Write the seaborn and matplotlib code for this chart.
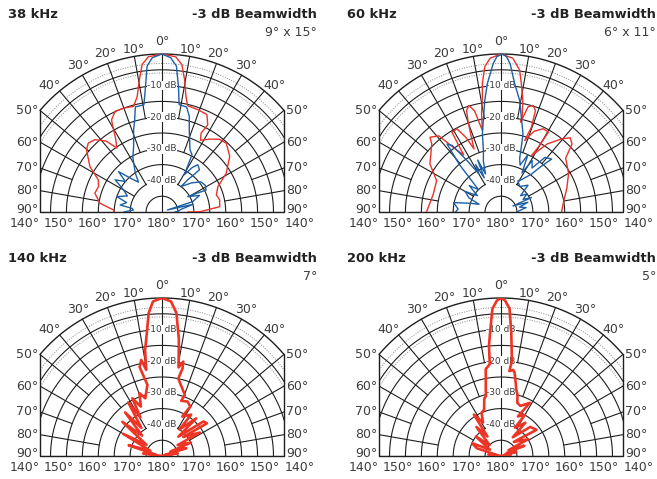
import numpy as np
import matplotlib
matplotlib.use("Agg")
import matplotlib.pyplot as plt
import seaborn as sns

sns.set_theme(style="white")
plt.rcParams["font.family"] = ["DejaVu Sans"]

# ---- beam pattern data: angle (deg, 0 = on axis) and level (dB) ----
ang_38_red = [-90, -87.6, -81.9, -74.2, -68, -63.1, -57.6, -50.3, -46.7, -42.6, -38, -35, -32, -29.5, -28.5,
              -24.8, -20, -14.9, -12, -9.6, -7.6, -5, 0, 5, 7.6, 9.6, 11.6, 13.4, 19.1, 24.6, 27.5, 26.2, 28,
              33, 38, 42.8, 50.4, 58.7, 65.4, 72.4, 78, 84.7, 89.5, 90]
db_38_red = [-35, -34.8, -30.3, -28.1, -28.5, -27.6, -23.2, -19.2, -18.2, -18.9, -21.5, -25.3, -22.5, -18.5, -16.8,
             -14.9, -15.0, -15.4, -12.6, -7.5, -2.9, -0.7, 0, -0.7, -2.9, -7.5, -12.6, -15.4, -15.7, -16.1, -18.9,
             -22.2, -24.3, -22.5, -20.8, -20.3, -22.4, -26.4, -30.7, -32.1, -31.5, -31.8, -38, -42]

ang_38_blue = [-90, -86, -83, -80.4, -75, -71, -65, -60, -55.3, -50, -46.9, -42, -38, -34.2, -28, -23.2, -18.9,
               -16.4, -14.1, -9.5, -7.4, -5.8, -3.6, 0, 3.2, 5.6, 7.4, 9.0, 13.1, 15.8, 18.2, 24, 27.5, 30.7, 34,
               36.9, 41.4, 38.5, 36.5, 45, 52, 58, 63.3, 58.8, 66, 71.2, 69.3, 76, 82, 89, 90]
db_38_blue = [-38, -41, -40.5, -36.7, -38.5, -35, -38, -36.1, -32.1, -35, -31.3, -36, -38, -35.1, -30.5, -27.4,
              -22.5, -19.6, -15.7, -15.6, -9.9, -3.6, -1.1, 0, -1.1, -3.6, -9.9, -15.6, -15.9, -18.5, -22.6, -28.4,
              -29.6, -36.3, -33, -31.3, -32.2, -37, -40, -37, -34.5, -34, -34.5, -40.6, -37.1, -39.8, -48.2, -40,
              -44, -45.1, -46]

ang_60_red = [-90, -75.2, -63.9, -55.7, -45.3, -43.3, -39, -36, -33, -31.4, -27.7, -25, -23, -20, -18.6, -16.6,
              -14.5, -12.8, -11, -9.1, -8.2, -6.3, -4, 0, 4.4, 7.4, 8.9, 11, 12.6, 12.2, 14.3, 16.6, 18.6, 19.6,
              18.2, 22, 26.7, 30.5, 29.7, 28.2, 34, 39.5, 42.8, 46, 50, 60, 70, 80, 90]
db_60_red = [-26.6, -28, -27.5, -23, -19.4, -17.5, -19, -25, -28.5, -20.4, -20.3, -24, -28.3, -20, -16.1, -14.8,
             -17, -23.5, -18, -13.1, -8.9, -3.7, -1.2, 0, -1.2, -4.7, -8.8, -14, -19.8, -20.9, -15.7, -14.8, -16.1,
             -21.5, -26.2, -22.5, -20.5, -20.7, -26.4, -29.8, -24, -20, -18, -19, -23.5, -25.5, -28, -30, -31]

ang_60_blue = [-90, -86, -78.7, -74, -70.5, -66, -60, -55, -50, -45, -41, -38.2, -36, -33, -30, -28, -26, -24,
               -22, -19, -16, -13.3, -8.2, -6, -3, -1.5, 0.6, 2, 3.5, 6, 9.4, 15.6, 17, 19, 22, 25, 28, 31, 35,
               38.6, 43.5, 41, 38.5, 32, 28.3, 36, 45, 50, 55, 60, 64.5, 62.8, 70, 75, 80, 85, 90]
db_60_blue = [-35.7, -36.5, -34.8, -40, -42.7, -39, -37, -41, -37, -40, -30, -22.6, -24, -31, -36, -33, -38, -32,
              -37, -33, -30, -24.6, -14.3, -9.1, -3, -0.8, 0, -0.8, -3, -9.1, -14.2, -24.3, -28, -32, -34, -30,
              -36, -31, -33, -27.9, -26.9, -31, -34.7, -38, -38.8, -40, -38, -42, -40, -42, -39.4, -45.8, -41,
              -44, -42, -44, -45]

ang_140 = [-88, -82, -78, -72, -66, -60, -54, -49, -44, -40, -36, -32, -29, -27, -23, -19.6, -16, -11.5, -14,
           -12.1, -10.3, -9, -7.7, -5.3, -3.3, 0, 3.3, 5.7, 8.2, 10.5, 12.6, 13.1, 11.8, 15.6, 20.4, 19, 25,
           29.6, 27, 35, 33, 42, 40, 50, 53.8, 48, 58, 55, 65, 62, 72, 70, 80, 90]
db_140 = [-50, -44, -48, -39, -46, -36, -44, -33.5, -41, -32, -39, -30, -36, -29.5, -33, -28.9, -31, -27, -21,
          -18.9, -22.3, -16, -12.9, -4.6, -1, 0, -1, -4.5, -12.8, -21.5, -19.4, -21.5, -25, -27.2, -29.4, -31.5,
          -31, -32, -36, -34, -40, -34, -42, -33, -32.5, -41, -36, -44, -40, -47, -42, -49, -45, -50]

ang_200 = [-90, -84, -78, -72, -65.9, -60, -52, -46, -40, -34.6, -33, -28, -24, -19.9, -16, -14, -12.8, -11,
           -9.9, -6.9, -6.2, -5, -3.3, -1.5, 0, 1.5, 3.3, 4.7, 6.5, 5.6, 8, 9.2, 11, 12.8, 15, 16.9, 21, 28.3,
           23, 30, 26, 36, 32, 45, 53.4, 42, 58, 52, 66, 62, 75, 72, 85, 90]
db_200 = [-50, -46, -49, -42, -40.1, -46, -40, -45, -38, -42.5, -34.4, -38, -35, -34.4, -31, -30.5, -28.4, -25,
          -22.1, -20.7, -15, -10.7, -3.3, -0.8, 0, -0.8, -3.3, -10.7, -19.7, -23, -22.5, -23.3, -26, -28.4, -30,
          -32.4, -33, -30.9, -36.4, -35, -40, -37, -43, -37, -36.1, -44, -40, -47, -42, -48, -45, -49, -47, -50]

ring_db = [-45, -40, -35, -30, -25, -20, -15, -10, -5]
dotted_db = [-3, -6]
db_labels = [-10, -20, -30, -40]
top_ticks = [0, 10, 20, 30, 40]
top_tick_pos = [(0.0, 3.9), (9.8, 2.2), (19.5, 3.3), (29.5, 3.4), (41.2, 3.4)]  # (angle, dB above rim)
side_ticks = [50, 60, 70, 80, 90]
bottom_ticks = [140, 150, 160, 170, 180, 170, 160, 150, 140]

FLOOR = -50
EDGE = 50
XMAX = EDGE * np.sin(np.radians(50))
RED = "#e8322a"
RED2 = "#ee3424"
BLUE = "#1d5fa5"
GRID = "#1e1e1e"
TXT = "#3c3c3c"

W, H = 657, 479
fig = plt.figure(figsize=(W / 100, H / 100), dpi=100)


def xy(ang, db):
    r = np.asarray(db, float) - FLOOR
    a = np.radians(np.asarray(ang, float))
    return r * np.sin(a), r * np.cos(a)


def spoke_start(a):
    if a % 30 == 0:
        return 10
    if a % 20 == 0:
        return 20
    return 30


def draw_grid(ax):
    th = np.linspace(-90, 90, 721)
    for d in ring_db:
        x, y = xy(th, np.full_like(th, d))
        ax.plot(x, y, color=GRID, lw=0.8, zorder=1)
    for d in dotted_db:
        x, y = xy(th, np.full_like(th, d))
        ax.plot(x, y, color="#888888", lw=0.7, ls=(0, (1, 1.5)), zorder=1)
    for a in range(10, 91, 10):
        for s in (-1, 1):
            r0 = spoke_start(a)
            x, y = xy([s * a, s * a], [FLOOR + r0, 0])
            ax.plot(x, y, color=GRID, lw=0.8, zorder=1)
    ax.plot([0, 0], [0, EDGE], color=GRID, lw=0.8, zorder=1)
    # frame: outer arc plus straight sides and base
    th = np.linspace(-50, 50, 201)
    x, y = xy(th, np.zeros_like(th))
    ax.plot(x, y, color=GRID, lw=1.0, zorder=1, clip_on=False)
    yc = EDGE * np.cos(np.radians(50))
    ax.plot([-XMAX, -XMAX, XMAX, XMAX], [yc, 0, 0, yc], color=GRID, lw=1.0, zorder=1, clip_on=False)

    for d in db_labels:
        ax.text(0, d - FLOOR, f"{d} dB", ha="center", va="center", fontsize=6.5, color=TXT, zorder=2,
                bbox=dict(facecolor="white", edgecolor="none", pad=0.2))
    for t, (pa, pr) in zip(top_ticks, top_tick_pos):
        for s in ((-1, 1) if t else (1,)):
            lx, ly = xy(s * pa, pr)
            ax.text(lx, ly, f"{t}°", ha="center", va="center", fontsize=9, color=TXT)
    for t in side_ticks:
        yy = XMAX / np.tan(np.radians(t)) if t < 90 else 0.8
        ax.text(-XMAX - 0.6, yy, f"{t}°", ha="right", va="center", fontsize=9, color=TXT)
        ax.text(XMAX + 0.6, yy, f"{t}°", ha="left", va="center", fontsize=9, color=TXT)
    for i, t in enumerate(bottom_ticks):
        ax.text((i - 4) * 10.8, -3.6, f"{t}°", ha="center", va="center", fontsize=9, color=TXT)


def panel(left, top, curves, title, width_txt):
    ax = fig.add_axes([left / W, 1 - (top + 158) / H, 244 / W, 158 / H])
    ax.set_xlim(-XMAX, XMAX)
    ax.set_ylim(0, EDGE)
    ax.axis("off")
    draw_grid(ax)
    for ang, db, col, lw in curves:
        x, y = xy(ang, db)
        sns.lineplot(x=x, y=y, sort=False, estimator=None, color=col, lw=lw, ax=ax, zorder=3)
    # headers
    fig.text((left - 32) / W, 1 - (top - 40) / H, title, ha="left", va="center", fontsize=9.4,
             fontweight="bold", color="#222222")
    fig.text((left + 277) / W, 1 - (top - 40) / H, "-3 dB Beamwidth", ha="right", va="center", fontsize=9.4,
             fontweight="bold", color="#222222")
    fig.text((left + 277) / W, 1 - (top - 22) / H, width_txt, ha="right", va="center", fontsize=9,
             color=TXT)


panel(40, 54, [(ang_38_red, db_38_red, RED, 1.0), (ang_38_blue, db_38_blue, BLUE, 1.0)], "38 kHz", "9° x 15°")
panel(379, 54, [(ang_60_red, db_60_red, RED, 1.0), (ang_60_blue, db_60_blue, BLUE, 1.0)], "60 kHz", "6° x 11°")
panel(40, 298, [(ang_140, db_140, RED2, 1.9)], "140 kHz", "7°")
panel(379, 298, [(ang_200, db_200, RED2, 1.9)], "200 kHz", "5°")

fig.savefig("out.png", dpi=100)
